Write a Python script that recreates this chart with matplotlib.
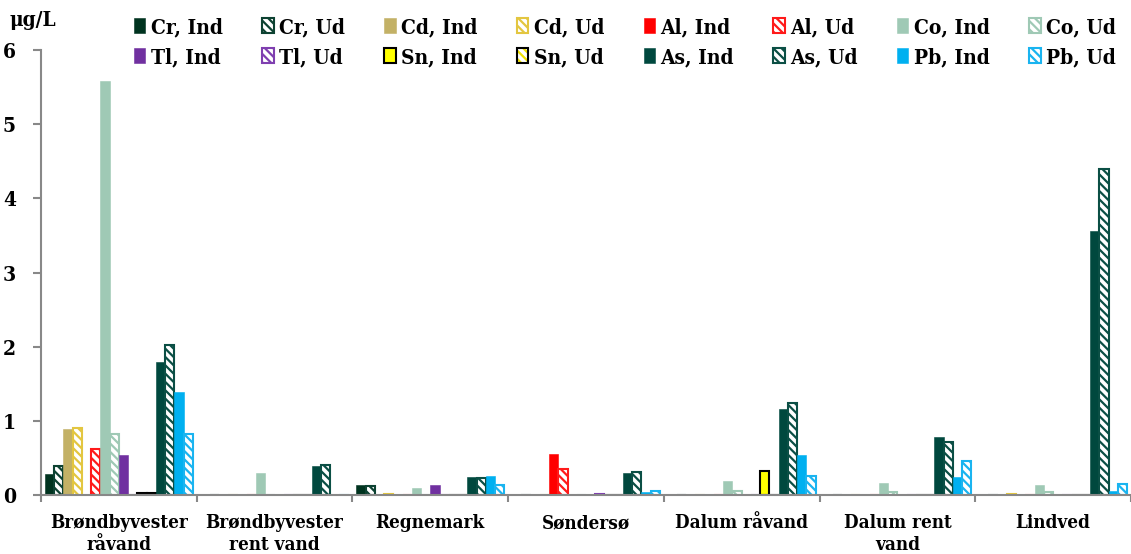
import numpy as np
import matplotlib
matplotlib.use("Agg")
import matplotlib.pyplot as plt
from matplotlib.legend_handler import HandlerTuple

plt.rcParams['font.family'] = ['DejaVu Serif']
plt.rcParams['font.stretch'] = 'condensed'
plt.rcParams['hatch.linewidth'] = 1.6

sites = ["Brøndbyvester\nråvand", "Brøndbyvester\nrent vand", "Regnemark",
         "Søndersø", "Dalum råvand", "Dalum rent\nvand", "Lindved"]

cr_ind = [0.28, 0, 0.14, 0, 0, 0, 0]
cr_ud = [0.39, 0, 0.125, 0, 0, 0, 0]
cd_ind = [0.89, 0, 0.02, 0, 0, 0, 0]
cd_ud = [0.90, 0, 0.02, 0, 0, 0, 0.01]
al_ind = [0, 0, 0, 0.55, 0, 0, 0]
al_ud = [0.62, 0, 0, 0.345, 0, 0, 0]
co_ind = [5.58, 0.29, 0.09, 0, 0.19, 0.157, 0.135]
co_ud = [0.82, 0, 0, 0, 0.05, 0.045, 0.045]
tl_ind = [0.54, 0, 0.13, 0, 0, 0, 0]
tl_ud = [0, 0, 0, 0.01, 0, 0, 0]
sn_ind = [0.025, 0, 0, 0, 0.32, 0, 0]
sn_ud = [0.025, 0, 0, 0, 0, 0, 0]
as_ind = [1.79, 0.39, 0.245, 0.29, 1.155, 0.78, 3.56]
as_ud = [2.02, 0.41, 0.225, 0.31, 1.245, 0.715, 4.39]
pb_ind = [1.39, 0, 0.25, 0.045, 0.54, 0.24, 0.05]
pb_ud = [0.82, 0, 0.14, 0.05, 0.255, 0.455, 0.15]

# (label, values, colour, hatched, edge)
series = [
    ("Cr, Ind", cr_ind, "#00331f", False, None),
    ("Cr, Ud", cr_ud, "#0d4232", True, None),
    ("Cd, Ind", cd_ind, "#c3b166", False, None),
    ("Cd, Ud", cd_ud, "#e3c640", True, None),
    ("Al, Ind", al_ind, "#ff0000", False, None),
    ("Al, Ud", al_ud, "#ff1a1a", True, None),
    ("Co, Ind", co_ind, "#9fc9b5", False, None),
    ("Co, Ud", co_ud, "#9fc9b5", True, None),
    ("Tl, Ind", tl_ind, "#7030a0", False, None),
    ("Tl, Ud", tl_ud, "#7f3fb0", True, None),
    ("Sn, Ind", sn_ind, "#ffff00", False, "black"),
    ("Sn, Ud", sn_ud, "#f0e000", True, "black"),
    ("As, Ind", as_ind, "#00483e", False, None),
    ("As, Ud", as_ud, "#0b4f45", True, None),
    ("Pb, Ind", pb_ind, "#00b0f0", False, None),
    ("Pb, Ud", pb_ud, "#1ab4f0", True, None),
]

fig = plt.figure(figsize=(11.31, 5.54), dpi=100)
ax = fig.add_axes([41 / 1131, 1 - 495 / 554, 1 - 41 / 1131, (495 - 50) / 554])

x = np.arange(len(sites))
n = len(series)
w = 0.95 / n
handles = []
for i, (lab, vals, col, hatched, edge) in enumerate(series):
    pos = x - 0.475 + w * (i + 0.5)
    if not hatched:
        b = ax.bar(pos, vals, w, color=col, edgecolor=edge if edge else col,
                   linewidth=1.5 if edge else 0.4, label=lab)
        handles.append(b)
    else:
        b = ax.bar(pos, vals, w, facecolor="white", edgecolor=col,
                   hatch="\\\\\\\\", linewidth=1.5 if not edge else 0)
        if edge:
            b2 = ax.bar(pos, vals, w, fill=False, edgecolor=edge, linewidth=1.5)
            handles.append((b, b2))
        else:
            handles.append(b)

ax.set_xlim(-0.5, len(sites) - 0.5)
ax.set_ylim(0, 6)
ax.set_yticks(range(7))
ax.set_xticks(np.arange(len(sites) + 1) - 0.5)
ax.set_xticklabels([])
ax.tick_params(axis="x", length=5, width=1.5, color="#888888")
ax.tick_params(axis="y", length=6, width=1.5, color="#888888", pad=12,
               labelsize=15)
for t in ax.get_yticklabels():
    t.set_fontweight("bold")
for s in ["top", "right"]:
    ax.spines[s].set_visible(False)
for s in ["left", "bottom"]:
    ax.spines[s].set_color("#888888")
    ax.spines[s].set_linewidth(1.5)

# category labels, one text per line so every first line shares a baseline
for xi, site in zip(x, sites):
    for k, line in enumerate(site.split("\n")):
        ax.annotate(line, xy=(xi, 0), xycoords=("data", "axes fraction"),
                    xytext=(0, -33 - 22 * k), textcoords="offset pixels",
                    ha="center", va="baseline", fontsize=13.5,
                    fontweight="bold", annotation_clip=False)

fig.text(10 / 1131, 1 - 20 / 554, "μg/L", fontsize=15, fontweight="bold",
         va="center", ha="left")

labels = [s[0] for s in series]
order = []
for c in range(8):
    order += [c, c + 8]
leg = fig.legend([handles[i] for i in order], [labels[i] for i in order],
                 ncol=8, loc="upper left", bbox_to_anchor=(134 / 1131, 1 - 17 / 554),
                 frameon=False, handlelength=0.55, handleheight=0.7,
                 handletextpad=0.25, columnspacing=1.9, labelspacing=0.48,
                 borderaxespad=0, borderpad=0,
                 prop={"weight": "bold", "size": 15, "stretch": "condensed"},
                 handler_map={tuple: HandlerTuple(ndivide=1, pad=0)})

fig.savefig("out.png", dpi=100)
